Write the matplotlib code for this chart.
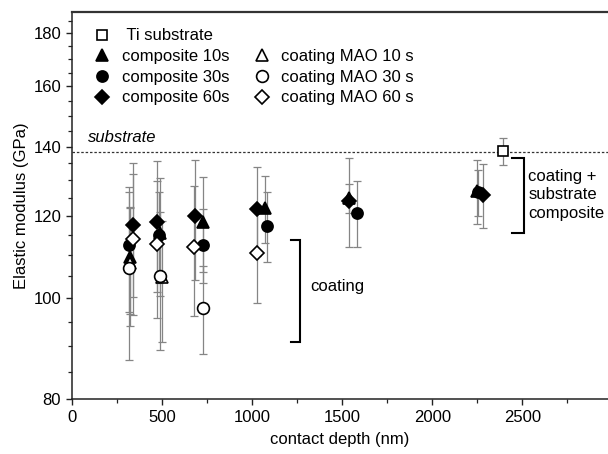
import numpy as np
import matplotlib
matplotlib.use("Agg")
import matplotlib.pyplot as plt
from matplotlib.ticker import FixedLocator, NullFormatter
from matplotlib.lines import Line2D

plt.rcParams['font.family'] = ['Liberation Sans', 'DejaVu Sans']

# Datos (profundidad de contacto en nm, modulo en GPa)

ti_x = [2390]
ti_y = [138.6]
ti_e = [4.1]

c10_x = [318, 486, 727, 1069, 1538, 2245]
c10_y = [109.5, 115.5, 118.5, 122.2, 124.9, 127.0]
c10_e = [13.0, 15.0, 12.5, 9.0, 4.0, 9.0]

c30_x = [312, 484, 723, 1079, 1582, 2255]
c30_y = [112.6, 115.0, 112.6, 117.5, 120.9, 126.5]
c30_e = [15.5, 11.5, 9.2, 9.0, 8.8, 6.5]

c60_x = [336, 471, 680, 1023, 1538, 2279]
c60_y = [117.7, 118.5, 120.0, 121.9, 124.2, 125.8]
c60_e = [17.4, 17.0, 15.8, 12.0, 12.2, 8.8]

m10_x = [320, 496]
m10_y = [108.1, 104.8]
m10_e = [14.0, 14.0]

m30_x = [312, 486, 723]
m30_y = [106.9, 105.1, 97.95]
m30_e = [19.7, 16.0, 9.6]

m60_x = [336, 471, 675, 1023]
m60_y = [114.1, 112.8, 112.2, 110.5]
m60_e = [17.8, 17.0, 16.0, 11.5]

e_sustrato = 138.4

fs = 12

fig = plt.figure(figsize=(6.08, 4.54), dpi=100)
ax = fig.add_axes([0.119, 0.121, 0.881, 0.853])

# Barras de error

series = [
    (c10_x, c10_y, c10_e, '^', 'black', 'composite 10s', 8),
    (c30_x, c30_y, c30_e, 'o', 'black', 'composite 30s', 8),
    (c60_x, c60_y, c60_e, 'D', 'black', 'composite 60s', 7),
    (m10_x, m10_y, m10_e, '^', 'white', 'coating MAO 10 s', 8),
    (m30_x, m30_y, m30_e, 'o', 'white', 'coating MAO 30 s', 8.5),
    (m60_x, m60_y, m60_e, 'D', 'white', 'coating MAO 60 s', 7),
]

ax.errorbar(ti_x, ti_y, yerr=ti_e, fmt='none', ecolor='#858585',
            elinewidth=0.9, capsize=3, capthick=0.9, zorder=2)
for sx, sy, se, m, fc, lab, ms in series:
    ax.errorbar(sx, sy, yerr=se, fmt='none', ecolor='#858585',
                elinewidth=0.9, capsize=3, capthick=0.9, zorder=2)

# Marcadores

h_ti, = ax.plot(ti_x, ti_y, 's', ms=7, mfc='white', mec='black', mew=1.2,
                ls='none', zorder=4)
handles = {}
for sx, sy, se, m, fc, lab, ms in series:
    h, = ax.plot(sx, sy, m, ms=ms, mfc=fc, mec='black', mew=1.2,
                 ls='none', zorder=4 if fc == 'white' else 3)
    handles[lab] = h

# Linea del sustrato

ax.axhline(e_sustrato, color='#333333', lw=0.9, ls=(0, (2, 1.5)), zorder=1)
ax.text(88, 140.6, 'substrate', fontsize=fs, style='italic', ha='left',
        va='bottom')

# Corchetes

ax.plot([1212, 1267, 1267, 1212], [113.8, 113.8, 90.8, 90.8], color='black',
        lw=1.5, solid_joinstyle='miter')
ax.text(1322, 102.6, 'coating', fontsize=fs, ha='left', va='center')

ax.plot([2444, 2511, 2511, 2444], [136.4, 136.4, 115.5, 115.5], color='black',
        lw=1.5, solid_joinstyle='miter')
ax.text(2533, 125.8, 'coating +\nsubstrate\ncomposite', fontsize=fs,
        ha='left', va='center', linespacing=1.3)

# Leyenda

blank = Line2D([], [], ls='none', marker='none')
leg_h = [h_ti, handles['composite 10s'], handles['composite 30s'],
         handles['composite 60s'], blank, handles['coating MAO 10 s'],
         handles['coating MAO 30 s'], handles['coating MAO 60 s']]
leg_l = [' Ti substrate', 'composite 10s', 'composite 30s', 'composite 60s',
         '', 'coating MAO 10 s', 'coating MAO 30 s', 'coating MAO 60 s']
ax.legend(leg_h, leg_l, ncol=2, frameon=False, loc='upper left',
          bbox_to_anchor=(0.022, 0.983), fontsize=fs, handlelength=1.0,
          handletextpad=0.65, columnspacing=1.45, labelspacing=0.34,
          borderaxespad=0.2)

# Ejes

ax.set_yscale('log')
ax.set_ylim(80, 188.8)
ax.set_xlim(0, 2975)
ax.yaxis.set_major_locator(FixedLocator([80, 100, 120, 140, 160, 180]))
ax.yaxis.set_minor_locator(FixedLocator(np.arange(85, 190, 5)))
ax.set_yticklabels(['80', '100', '120', '140', '160', '180'])
ax.yaxis.set_minor_formatter(NullFormatter())
ax.xaxis.set_major_locator(FixedLocator([0, 500, 1000, 1500, 2000, 2500]))
ax.xaxis.set_minor_locator(FixedLocator([250, 750, 1250, 1750, 2250, 2750]))

ax.tick_params(which='major', direction='out', length=4.5, width=1.0,
               labelsize=fs, color='#222222', labelcolor='black')
ax.tick_params(which='minor', direction='out', length=3, width=0.9,
               color='#222222')
ax.spines['right'].set_visible(False)
for s in ['left', 'bottom']:
    ax.spines[s].set_linewidth(1.1)
    ax.spines[s].set_color('#222222')
ax.spines['top'].set_linewidth(1.6)
ax.spines['top'].set_color('#333333')

ax.set_xlabel('contact depth (nm)', fontsize=fs, labelpad=5)
ax.set_ylabel('Elastic modulus (GPa)', fontsize=fs, labelpad=3)

fig.savefig('out.png', dpi=100)
